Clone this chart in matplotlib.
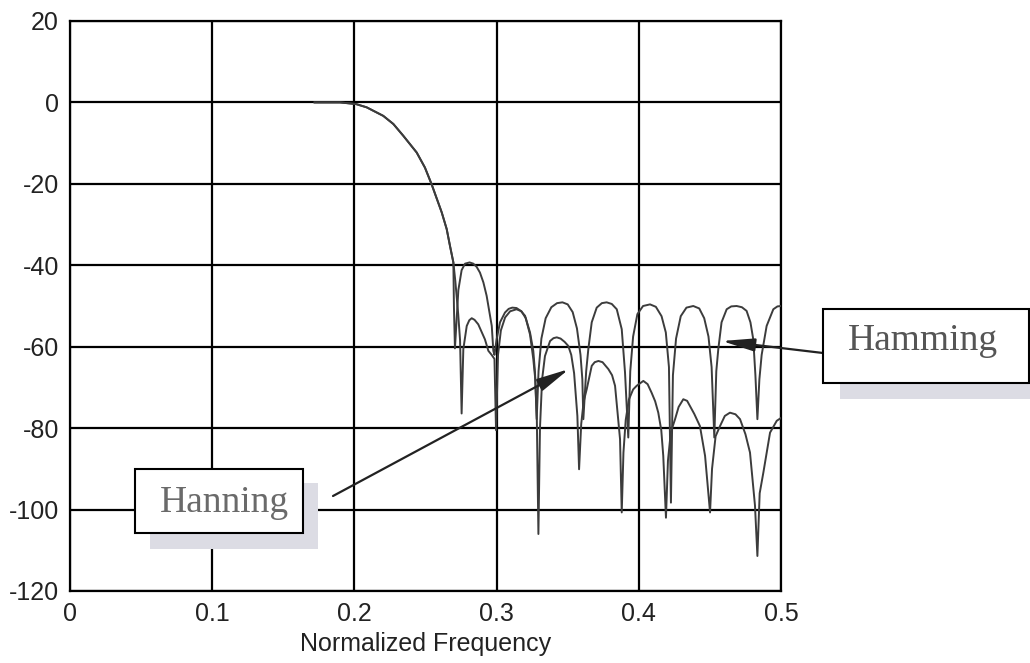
import matplotlib
matplotlib.use('Agg')
import matplotlib.pyplot as plt
from matplotlib.patches import Rectangle

# transition band (shared by both windows)
band_x = [0.172, 0.190, 0.2011, 0.2086, 0.2203, 0.2274, 0.2344, 0.2438,
          0.2496, 0.2543, 0.2614, 0.2649, 0.2672, 0.2696]
band_y = [0.0, 0.0, -0.4, -1.2, -3.3, -5.3, -8.2, -12.3,
          -16.0, -20.1, -27.0, -31.1, -35.2, -39.3]

# Hamming stopband
hamming_x = [0.2710, 0.2730, 0.2743, 0.2754,
             0.2766, 0.2790, 0.2808, 0.2825, 0.2845, 0.2871, 0.2918, 0.2942, 0.2965, 0.2985, 0.2996,
             0.3010, 0.3030, 0.3060, 0.3095, 0.3140, 0.3175, 0.3205, 0.3235, 0.3258, 0.3272, 0.3282,
             0.3295, 0.3315, 0.3345, 0.3385, 0.3425, 0.3463, 0.3500, 0.3535, 0.3565, 0.3590, 0.3603, 0.3610,
             0.3630, 0.3645, 0.3669, 0.3704, 0.3740, 0.3774, 0.3810, 0.3845, 0.3880, 0.3903, 0.3926,
             0.3940, 0.3960, 0.3990, 0.4030, 0.4079, 0.4120, 0.4160, 0.4190, 0.4212, 0.4226,
             0.4240, 0.4262, 0.4295, 0.4335, 0.4383, 0.4425, 0.4460, 0.4490, 0.4512, 0.4531,
             0.4545, 0.4559, 0.4582, 0.4618, 0.4650, 0.4688, 0.4725, 0.4758, 0.4785, 0.4805, 0.4820, 0.4834,
             0.4848, 0.4864, 0.4899, 0.4946, 0.4975, 0.5000]
hamming_y = [-44.0, -52.0, -58.4, -76.4,
             -60.6, -54.9, -53.5, -53.0, -53.4, -54.5, -58.2, -61.0, -62.0, -63.0, -80.5,
             -62.0, -56.0, -52.8, -51.3, -50.8, -51.3, -53.0, -57.0, -63.0, -68.0, -77.8,
             -66.0, -58.0, -53.0, -50.3, -49.3, -49.1, -49.6, -51.5, -55.5, -62.0, -68.0, -77.8,
             -66.0, -60.6, -54.0, -50.4, -49.3, -49.1, -49.5, -50.8, -55.7, -66.3, -82.3,
             -66.0, -57.5, -52.0, -50.0, -49.6, -50.2, -52.5, -56.5, -65.0, -98.3,
             -67.0, -58.0, -52.5, -50.4, -50.0, -50.6, -53.0, -57.5, -65.0, -82.3,
             -66.0, -60.6, -54.0, -50.8, -50.1, -50.0, -50.3, -51.2, -54.0, -58.2, -67.0, -77.8,
             -68.0, -62.0, -54.9, -50.8, -50.1, -50.0]

# Hanning stopband
hanning_x = [0.2700, 0.2707,
             0.2731, 0.2754, 0.2778, 0.2810, 0.2836, 0.2860, 0.2883, 0.2907, 0.2930, 0.2966, 0.2977, 0.2985,
             0.3000, 0.3024, 0.3059, 0.3085, 0.3110, 0.3140, 0.3170, 0.3200, 0.3235, 0.3258, 0.3270, 0.3283, 0.3294,
             0.3305, 0.3320, 0.3340, 0.3376, 0.3400, 0.3423, 0.3450, 0.3478, 0.3504, 0.3525, 0.3545, 0.3568, 0.3580,
             0.3595, 0.3612, 0.3634, 0.3669, 0.3690, 0.3716, 0.3745, 0.3786, 0.3812, 0.3833, 0.3868, 0.3880,
             0.3892, 0.3908, 0.3930, 0.3960, 0.3985, 0.4032, 0.4062, 0.4090, 0.4115, 0.4137, 0.4158, 0.4172, 0.4191,
             0.4205, 0.4225, 0.4255, 0.4280, 0.4313, 0.4340, 0.4390, 0.4430, 0.4466, 0.4501,
             0.4515, 0.4540, 0.4571, 0.4605, 0.4641, 0.4680, 0.4712, 0.4750, 0.4782, 0.4817, 0.4834,
             0.4850, 0.4876, 0.4923, 0.4970, 0.5000]
hanning_y = [-50.3, -60.4,
             -46.1, -41.2, -39.6, -39.3, -39.6, -40.4, -41.8, -44.2, -47.5, -54.9, -61.0, -62.0,
             -58.2, -54.0, -51.6, -50.7, -50.4, -50.5, -51.2, -52.4, -56.5, -61.0, -66.3, -78.0, -106.0,
             -80.0, -68.0, -62.3, -58.6, -57.9, -57.7, -58.0, -58.8, -59.8, -62.0, -66.5, -77.0, -90.1,
             -79.0, -73.5, -70.4, -64.7, -63.8, -63.5, -63.8, -65.5, -67.0, -69.6, -82.7, -100.7,
             -86.0, -78.0, -73.0, -70.5, -69.6, -68.4, -69.2, -71.3, -73.4, -76.2, -80.5, -86.8, -102.0,
             -88.0, -81.0, -77.8, -74.8, -72.9, -73.3, -76.5, -79.5, -86.8, -100.7,
             -90.0, -82.0, -79.5, -77.0, -76.2, -76.6, -77.8, -81.5, -86.0, -99.0, -111.4,
             -96.0, -90.9, -81.1, -78.2, -77.5]

xticks = [0, 0.1, 0.2, 0.3, 0.4, 0.5]
xtick_labels = ['0', '0.1', '0.2', '0.3', '0.4', '0.5']
yticks = [-120, -100, -80, -60, -40, -20, 0, 20]
ytick_labels = ['-120', '-100', '-80', '-60', '-40', '-20', '0', '20']

plt.rcParams['font.family'] = ['Liberation Sans', 'DejaVu Sans']

W, H = 1030, 663
fig = plt.figure(figsize=(W / 100, H / 100), dpi=100)
ax = fig.add_axes([70 / W, 1 - 591 / H, 711 / W, 570 / H])


def fpx(x, y):
    # figure pixel (from top-left) -> figure fraction
    return (x / W, 1 - y / H)


line_col = '#3c3c3c'
ax.plot(band_x + hamming_x, band_y + hamming_y, color=line_col, lw=1.4, zorder=3)
ax.plot(band_x + hanning_x, band_y + hanning_y, color=line_col, lw=1.4, zorder=3)

ax.set_xlim(0, 0.5)
ax.set_ylim(-120, 20)
ax.set_xticks(xticks)
ax.set_xticklabels(xtick_labels)
ax.set_yticks(yticks)
ax.set_yticklabels(ytick_labels)
ax.tick_params(length=0, labelsize=18, colors='#222222', pad=8)
ax.grid(True, color='black', lw=1.6)
for s in ax.spines.values():
    s.set_linewidth(1.6)
ax.set_xlabel('Normalized Frequency', fontsize=18, color='#222222', labelpad=4)

# label boxes with shadows
shadow = '#dcdce4'
boxes = [
    ((823, 309, 1029, 383), (840, 316, 1030, 399), 'Hamming', (923, 350), '#555555'),
    ((135, 469, 303, 533), (150, 483, 318, 549), 'Hanning', (224, 512), '#6a6a6a'),
]
for (bx0, by0, bx1, by1), (sx0, sy0, sx1, sy1), txt, (tx, ty), tc in boxes:
    fig.add_artist(Rectangle(fpx(sx0, sy1), (sx1 - sx0) / W, (sy1 - sy0) / H,
                             transform=fig.transFigure, facecolor=shadow,
                             edgecolor='none', zorder=5))
    fig.add_artist(Rectangle(fpx(bx0, by1), (bx1 - bx0) / W, (by1 - by0) / H,
                             transform=fig.transFigure, facecolor='white',
                             edgecolor='black', lw=1.5, zorder=6))
    fig.text(*fpx(tx, ty), txt, ha='center', va='baseline', fontsize=27,
             family='Liberation Serif', color=tc, zorder=7)

arrow = dict(arrowstyle='-|>,head_length=0.9,head_width=0.18', color='#222222',
             lw=1.6, shrinkA=0, shrinkB=0, mutation_scale=22)
ax.annotate('', xy=(0.4585, -58.6), xycoords='data',
            xytext=fpx(823, 353), textcoords='figure fraction',
            arrowprops=arrow, annotation_clip=False, zorder=8)
ax.annotate('', xy=(0.3509, -65.5), xycoords='data',
            xytext=fpx(333, 496), textcoords='figure fraction',
            arrowprops=arrow, annotation_clip=False, zorder=8)

plt.savefig('out.png', dpi=100)
